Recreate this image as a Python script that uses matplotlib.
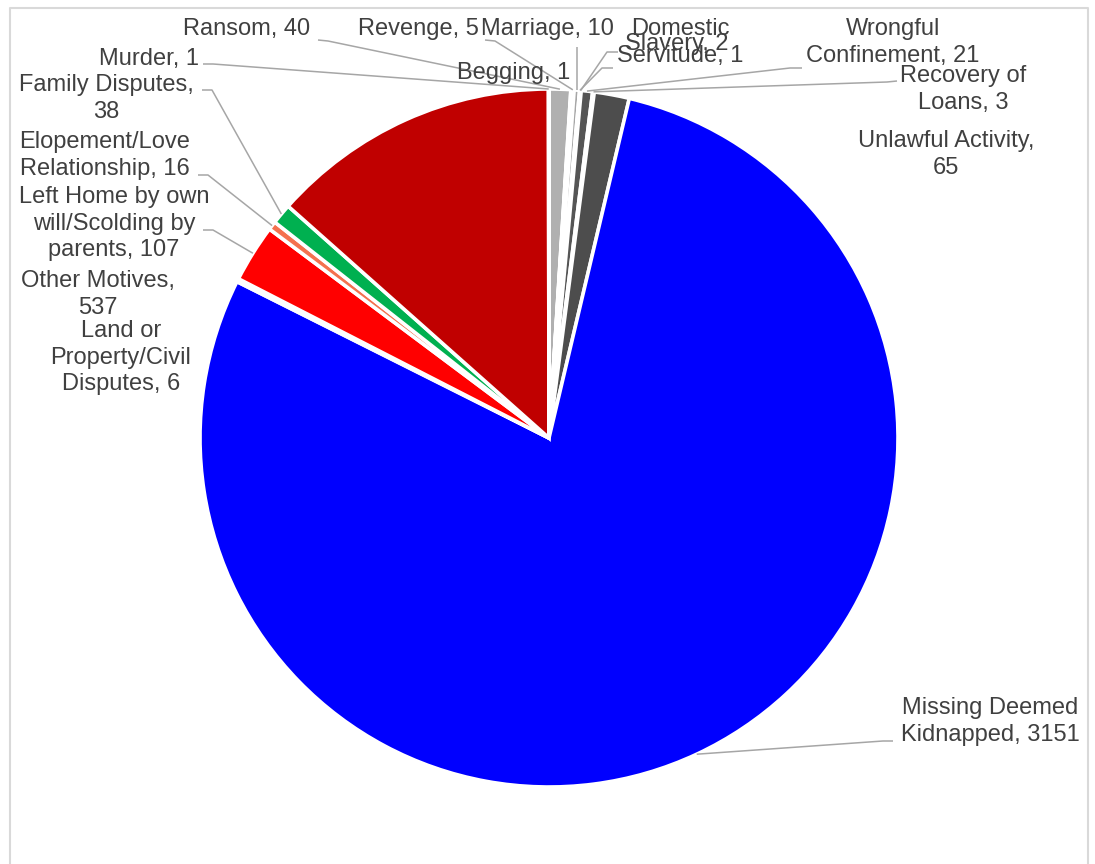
import matplotlib
matplotlib.use("Agg")
import matplotlib.pyplot as plt
import numpy as np

# ---------------- data ----------------
categories = ["Ransom", "Begging", "Revenge", "Marriage", "Domestic\nServitude",
              "Slavery", "Wrongful\nConfinement", "Recovery of\nLoans",
              "Unlawful Activity,\n", "Missing Deemed\nKidnapped",
              "Land or\nProperty/Civil\nDisputes", "Left Home by own\nwill/Scolding by\nparents",
              "Elopement/Love\nRelationship", "Family Disputes,\n", "Other Motives,\n", "Murder"]
values = [40, 1, 5, 10, 1, 2, 21, 3, 65, 3151, 6, 107, 16, 38, 537, 1]
colors = ["#B0B0B0", "#F2F2F2", "#E6E6E6", "#A6A6A6", "#D9D9D9", "#8C8C8C",
          "#555555", "#CCCCCC", "#4D4D4D", "#0000FF", "#FF8080", "#FF0000",
          "#F4714F", "#00B050", "#C00000", "#EDEDED"]

W, H = 1095, 864
fig = plt.figure(figsize=(W / 100, H / 100), dpi=100)
ax = fig.add_axes([0, 0, 1, 1])

CX, CY, R = 549, 438, 349  # image pixel coords (y down)


def Y(y):
    return H - y


ax.pie(values, colors=colors, startangle=90, counterclock=False,
       center=(CX, Y(CY)), radius=R,
       wedgeprops=dict(edgecolor="white", linewidth=2.6))
ax.set_xlim(0, W)
ax.set_ylim(0, H)
ax.set_aspect("equal")
ax.axis("off")

# mid angles (deg clockwise from 12 o'clock)
vals = np.array(values, dtype=float)
cum = np.cumsum(vals) - vals / 2
mid = cum / vals.sum() * 360.0


def edge_pt(i, r=R):
    a = np.deg2rad(mid[i])
    return CX + r * np.sin(a), CY - r * np.cos(a)


TXT = "#404040"
LEAD = "#A6A6A6"
FS = 17


def label(text, xc, base1):
    ax.text(xc, Y(base1 - 17), text, ha="center", va="top", multialignment="center",
            fontsize=FS, color=TXT, family=["Liberation Sans", "DejaVu Sans"],
            linespacing=1.27)


def lead(i, pts):
    ex, ey = edge_pt(i)
    xs = [p[0] for p in pts] + [ex]
    ys = [Y(p[1]) for p in pts] + [Y(ey)]
    ax.plot(xs, ys, color=LEAD, lw=1.1, solid_capstyle="butt", zorder=1)


def lab(i):
    c = categories[i]
    v = values[i]
    if c.endswith("\n"):
        return f"{c}{v}"
    return f"{c}, {v}"


# labels (layout positions in image pixels)
label(lab(0), 247, 35)            # Ransom
label(lab(1), 514, 79)            # Begging
label(lab(2), 418, 35)            # Revenge
label(lab(3), 547, 35)            # Marriage
label(lab(4), 680, 35)            # Domestic Servitude
label(lab(5), 677, 50)            # Slavery
label(lab(6), 893, 35)            # Wrongful Confinement
label(lab(7), 963, 82)            # Recovery of Loans
label(lab(8), 946, 147)           # Unlawful Activity
label(lab(9), 990, 714)           # Missing Deemed Kidnapped
label(lab(10), 121, 337)          # Land or Property
label(lab(11), 114, 203)          # Left Home
label(lab(12), 105, 148)          # Elopement
label(lab(13), 106, 91)           # Family Disputes
label(lab(14), 98, 287)           # Other Motives
label(lab(15), 149, 65)           # Murder

# leader lines
lead(0, [(318, 40), (328, 41)])
lead(15, [(203, 64), (213, 64)])
lead(2, [(485, 40), (495, 41)])
ex3, _ = edge_pt(3)
lead(3, [(ex3, 47)])
lead(5, [(618, 52), (607, 52)])
lead(4, [(613, 68), (602, 68)])
lead(6, [(802, 68), (790, 68)])
lead(7, [(897, 81), (887, 82)])
lead(9, [(893, 741), (883, 741)])
lead(13, [(202, 90), (212, 90)])
lead(12, [(198, 175), (208, 175)])
lead(11, [(203, 230), (213, 230)])

# chart frame
FR = "#D9D9D9"
ax.plot([10, 10, 1088, 1088], [Y(880), Y(8), Y(8), Y(880)], color=FR, lw=1.5,
        clip_on=False, zorder=0)

fig.savefig("out.png", dpi=100)
